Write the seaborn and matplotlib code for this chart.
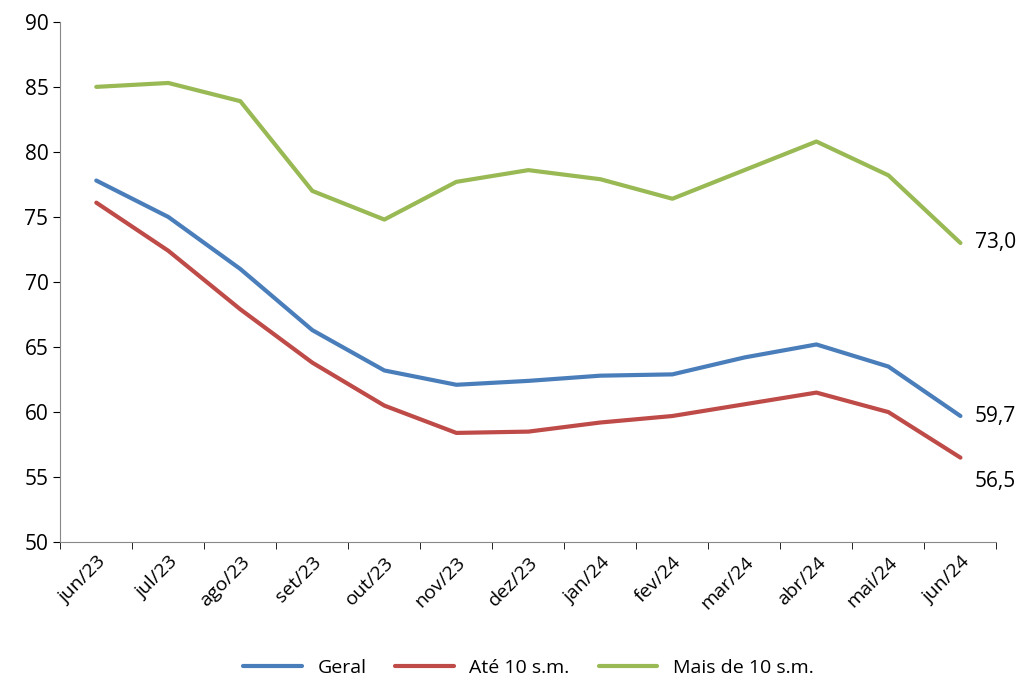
import matplotlib
matplotlib.use("Agg")
import matplotlib.pyplot as plt
import seaborn as sns
import numpy as np

meses = ['jun/23', 'jul/23', 'ago/23', 'set/23', 'out/23', 'nov/23', 'dez/23',
         'jan/24', 'fev/24', 'mar/24', 'abr/24', 'mai/24', 'jun/24']
geral = [77.8, 75.0, 71.0, 66.3, 63.2, 62.1, 62.4, 62.8, 62.9, 64.2, 65.2, 63.5, 59.7]
ate10 = [76.1, 72.4, 67.9, 63.8, 60.5, 58.4, 58.5, 59.2, 59.7, 60.6, 61.5, 60.0, 56.5]
mais10 = [85.0, 85.3, 83.9, 77.0, 74.8, 77.7, 78.6, 77.9, 76.4, 78.6, 80.8, 78.2, 73.0]

sns.set_style("white")
plt.rcParams['font.family'] = ['Open Sans', 'DejaVu Sans']
plt.rcParams['text.color'] = 'black'
plt.rcParams['xtick.color'] = 'black'
plt.rcParams['ytick.color'] = 'black'

fig, ax = plt.subplots(figsize=(10.22, 6.82), dpi=100)
fig.subplots_adjust(left=0.059, right=0.975, top=0.968, bottom=0.205)

x = np.arange(len(meses))
# deslocamento vertical dos rótulos finais (em unidades do eixo y)
desloc = [0.0, -1.8, 0.0]
series = [('Geral', geral, '#4a7ebb'), ('Até 10 s.m.', ate10, '#be4b48'),
          ('Mais de 10 s.m.', mais10, '#98b954')]
for (nome, vals, cor), d in zip(series, desloc):
    sns.lineplot(x=x, y=vals, ax=ax, color=cor, linewidth=3, label=nome)
    ax.text(x[-1] + 0.2, vals[-1] + d, f"{vals[-1]:.1f}".replace('.', ','),
            va='center', ha='left', fontsize=15)

ax.set_xlim(-0.5, len(meses) - 0.5)
ax.set_ylim(50, 90)
ax.set_yticks(range(50, 91, 5))
ax.set_xticks(x)
ax.set_xticklabels(meses, rotation=45, ha='right', rotation_mode='anchor', fontsize=14)
ax.set_xticks(np.arange(-0.5, len(meses), 1), minor=True)
ax.tick_params(axis='x', which='major', length=0, pad=8)
ax.tick_params(axis='x', which='minor', length=5, direction='out', bottom=True)
ax.tick_params(axis='y', labelsize=15, length=5, direction='out', left=True)
for s in ['top', 'right']:
    ax.spines[s].set_visible(False)
for s in ['left', 'bottom']:
    ax.spines[s].set_color('#888888')

ax.legend(loc='upper center', bbox_to_anchor=(0.5, -0.19), ncol=3, frameon=False,
          fontsize=14, handlelength=3, columnspacing=1.5)

plt.savefig("out.png", dpi=100)
